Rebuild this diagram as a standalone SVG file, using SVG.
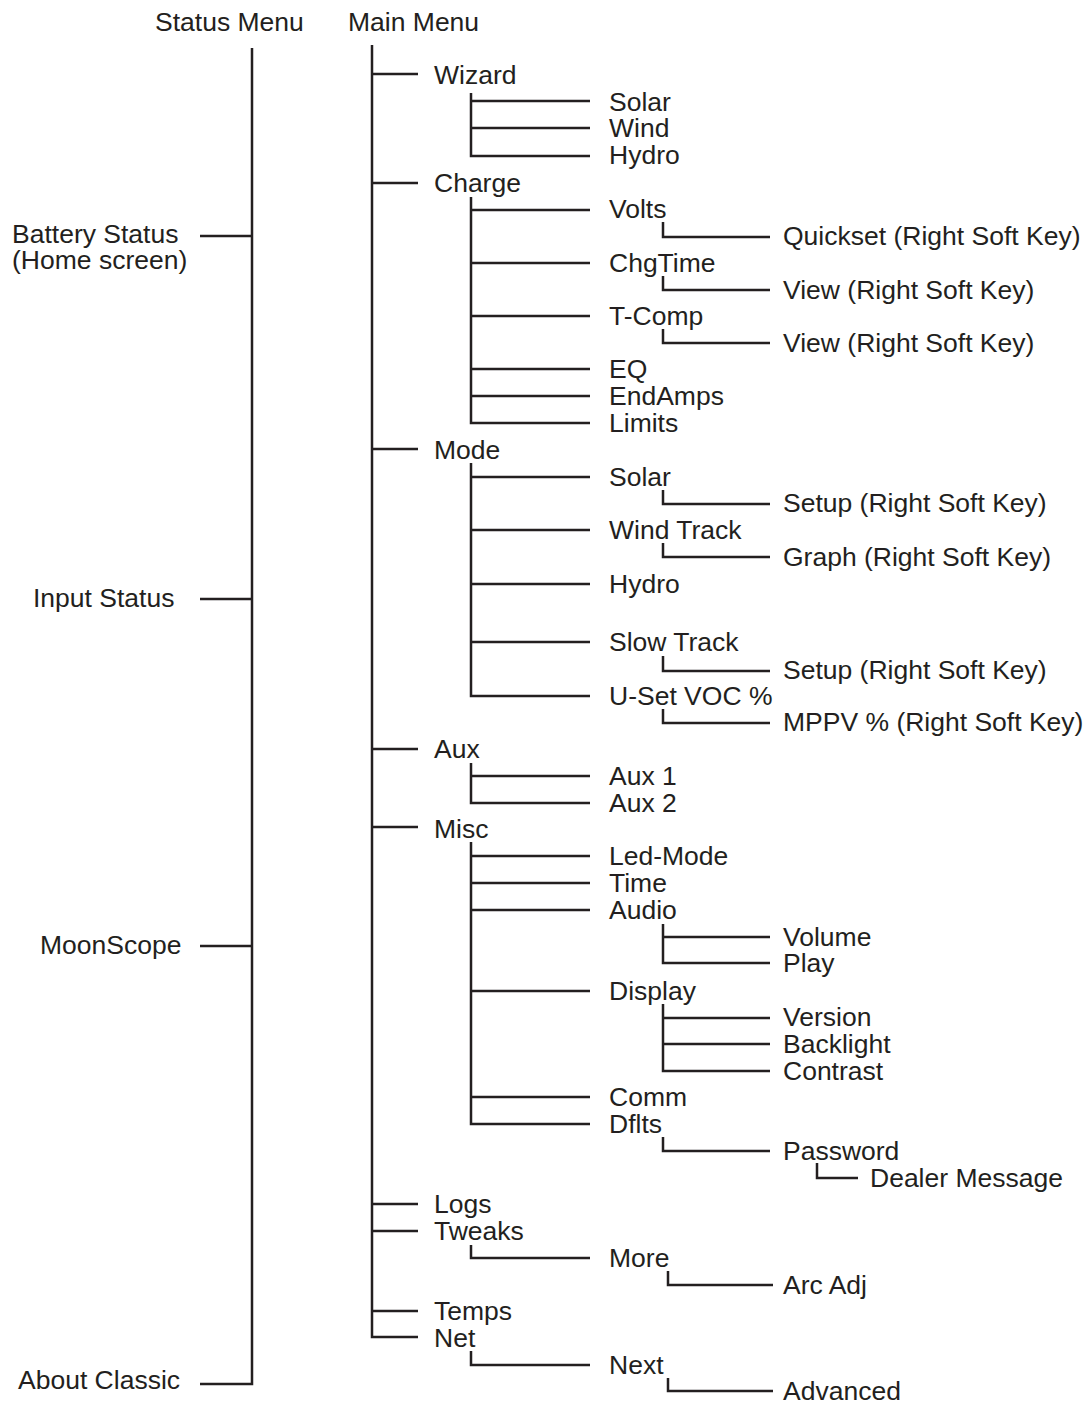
<svg xmlns="http://www.w3.org/2000/svg" width="1083" height="1406" viewBox="0 0 1083 1406">
<style>
.t{font-family:"Liberation Sans",Arial,sans-serif;font-size:26.5px;fill:#231f20}
.c path{fill:none;stroke:#231f20;stroke-width:2.5;stroke-linecap:butt;stroke-linejoin:miter}
</style>
<rect width="1083" height="1406" fill="#fff"/>
<g class="c" id="connectors">
<path d="M252 48 V1384 H200 M200 236 H252 M200 599 H252 M200 946 H252"/>
<path d="M372 45 V1337 H418 M372 74 H418 M372 183 H418 M372 449 H418 M372 749 H418 M372 827 H418 M372 1204 H418 M372 1231 H418 M372 1311 H418"/>
<path d="M471 93 V156 H590 M471 101 H590 M471 128 H590"/>
<path d="M471 197 V423 H590 M471 210 H590 M471 263 H590 M471 316 H590 M471 369 H590 M471 396 H590"/>
<path d="M471 463 V696 H590 M471 477 H590 M471 530 H590 M471 584 H590 M471 642 H590"/>
<path d="M471 763 V803 H590 M471 776 H590"/>
<path d="M471 842 V1124 H590 M471 856 H590 M471 883 H590 M471 910 H590 M471 991 H590 M471 1097 H590"/>
<path d="M471 1245 V1258 H590 M471 1351 V1365 H590"/>
<path d="M663 222 V237 H770 M663 276 V290 H770 M663 329 V343 H770 M663 490 V504 H770 M663 543 V557 H770 M663 656 V671 H770 M663 709 V723 H770"/>
<path d="M663 924 V963 H770 M663 937 H770 M663 1004 V1071 H770 M663 1018 H770 M663 1044 H770 M663 1137 V1151 H770 M817 1163 V1178 H858"/>
<path d="M668 1271 V1285 H773 M668 1378 V1391 H773"/>
</g>
<g id="status-menu"><text class="t" x="155" y="31">Status Menu</text></g>
<g id="main-menu"><text class="t" x="348" y="31">Main Menu</text></g>
<g id="battery-status"><text class="t" x="12" y="243">Battery Status</text><text class="t" x="12" y="269">(Home screen)</text></g>
<g id="input-status"><text class="t" x="33" y="607">Input Status</text></g>
<g id="moonscope"><text class="t" x="40" y="954">MoonScope</text></g>
<g id="about-classic"><text class="t" x="18" y="1389">About Classic</text></g>
<g id="wizard"><text class="t" x="434" y="84">Wizard</text></g>
<g id="wiz-solar"><text class="t" x="609" y="111">Solar</text></g>
<g id="wiz-wind"><text class="t" x="609" y="137">Wind</text></g>
<g id="wiz-hydro"><text class="t" x="609" y="164">Hydro</text></g>
<g id="charge"><text class="t" x="434" y="192">Charge</text></g>
<g id="volts"><text class="t" x="609" y="218">Volts</text></g>
<g id="quickset"><text class="t" x="783" y="245">Quickset (Right Soft Key)</text></g>
<g id="chgtime"><text class="t" x="609" y="272">ChgTime</text></g>
<g id="view1"><text class="t" x="783" y="299">View (Right Soft Key)</text></g>
<g id="tcomp"><text class="t" x="609" y="325">T-Comp</text></g>
<g id="view2"><text class="t" x="783" y="352">View (Right Soft Key)</text></g>
<g id="eq"><text class="t" x="609" y="378">EQ</text></g>
<g id="endamps"><text class="t" x="609" y="405">EndAmps</text></g>
<g id="limits"><text class="t" x="609" y="432">Limits</text></g>
<g id="mode"><text class="t" x="434" y="459">Mode</text></g>
<g id="mode-solar"><text class="t" x="609" y="486">Solar</text></g>
<g id="setup1"><text class="t" x="783" y="512">Setup (Right Soft Key)</text></g>
<g id="windtrack"><text class="t" x="609" y="539">Wind Track</text></g>
<g id="graph"><text class="t" x="783" y="566">Graph (Right Soft Key)</text></g>
<g id="mode-hydro"><text class="t" x="609" y="593">Hydro</text></g>
<g id="slowtrack"><text class="t" x="609" y="651">Slow Track</text></g>
<g id="setup2"><text class="t" x="783" y="679">Setup (Right Soft Key)</text></g>
<g id="usetvoc"><text class="t" x="609" y="705">U-Set VOC %</text></g>
<g id="mppv"><text class="t" x="783" y="731">MPPV % (Right Soft Key)</text></g>
<g id="aux"><text class="t" x="434" y="758">Aux</text></g>
<g id="aux1"><text class="t" x="609" y="785">Aux 1</text></g>
<g id="aux2"><text class="t" x="609" y="812">Aux 2</text></g>
<g id="misc"><text class="t" x="434" y="838">Misc</text></g>
<g id="ledmode"><text class="t" x="609" y="865">Led-Mode</text></g>
<g id="time"><text class="t" x="609" y="892">Time</text></g>
<g id="audio"><text class="t" x="609" y="919">Audio</text></g>
<g id="volume"><text class="t" x="783" y="946">Volume</text></g>
<g id="play"><text class="t" x="783" y="972">Play</text></g>
<g id="display"><text class="t" x="609" y="1000">Display</text></g>
<g id="version"><text class="t" x="783" y="1026">Version</text></g>
<g id="backlight"><text class="t" x="783" y="1053">Backlight</text></g>
<g id="contrast"><text class="t" x="783" y="1080">Contrast</text></g>
<g id="comm"><text class="t" x="609" y="1106">Comm</text></g>
<g id="dflts"><text class="t" x="609" y="1133">Dflts</text></g>
<g id="password"><text class="t" x="783" y="1160">Password</text></g>
<g id="dealer"><text class="t" x="870" y="1187">Dealer Message</text></g>
<g id="logs"><text class="t" x="434" y="1213">Logs</text></g>
<g id="tweaks"><text class="t" x="434" y="1240">Tweaks</text></g>
<g id="more"><text class="t" x="609" y="1267">More</text></g>
<g id="arcadj"><text class="t" x="783" y="1294">Arc Adj</text></g>
<g id="temps"><text class="t" x="434" y="1320">Temps</text></g>
<g id="net"><text class="t" x="434" y="1347">Net</text></g>
<g id="next"><text class="t" x="609" y="1374">Next</text></g>
<g id="advanced"><text class="t" x="783" y="1400">Advanced</text></g>
</svg>
